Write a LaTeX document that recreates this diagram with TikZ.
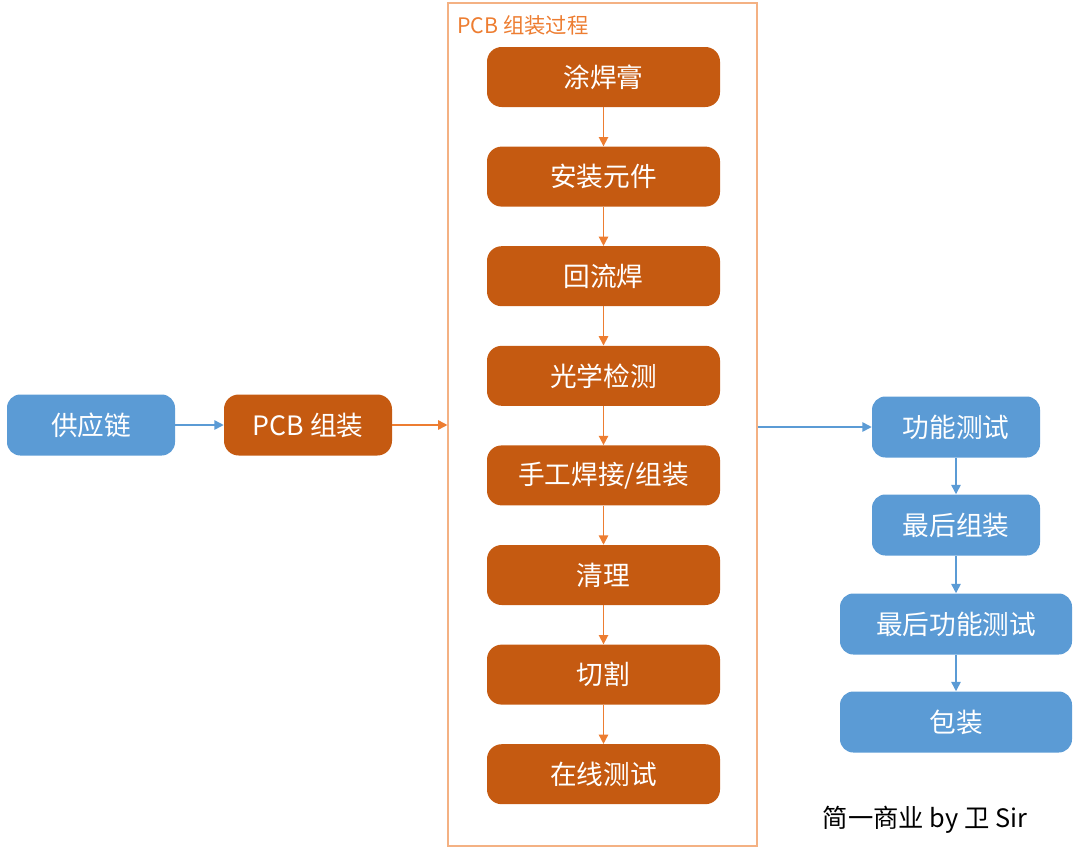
\documentclass[tikz,border=0pt]{standalone}
\usepackage{fontspec}
\usepackage{tikz}
\usetikzlibrary{positioning, arrows.meta}
\newfontfamily\cjk{Noto Sans CJK SC}
\definecolor{boxblue}{RGB}{91, 155, 213}
\definecolor{boxorange}{RGB}{197, 90, 17}
\definecolor{arrorange}{RGB}{237, 125, 49}
\definecolor{framepeach}{RGB}{244, 177, 131}
\tikzset{
  bluebox/.style={fill=boxblue, text=white, rounded corners=10pt,
    minimum width=126pt, minimum height=45.75pt, font=\cjk\fontsize{20}{24}\selectfont},
  orangebox/.style={fill=boxorange, text=white, rounded corners=11pt,
    minimum width=174.75pt, minimum height=45pt, font=\cjk\fontsize{20}{24}\selectfont},
  blueline/.style={-{Triangle[length=7pt, width=7pt]}, boxblue, line width=1.2},
  orangeline/.style={-{Triangle[length=7pt, width=7pt]}, arrorange, line width=1.2}
}
\begin{document}
\begin{tikzpicture}[x=0.75pt, y=-0.75pt]

  \useasboundingbox (0, 0) rectangle (1080, 857);

  \pgfmathsetmacro{\stepx}{603.5};
  \pgfmathsetmacro{\stepy}{77};
  \pgfmathsetmacro{\stepd}{99.6};

  % left side
  \node[bluebox] (supply) at (91, 425) {供应链};
  \node[orangebox, minimum width=126pt, minimum height=45.75pt] (pcb) at (308, 425) {PCB 组装};

  % process frame
  \node[draw=framepeach, line width=0.8, minimum width=231.75pt, minimum height=632.25pt,
    inner sep=0pt] (proc) at (602.5, 424.5) {};
  \node[anchor=west, text=arrorange, font=\cjk\fontsize{16}{19}\selectfont, inner sep=0pt]
    (proctitle) at (457, 25) {PCB 组装过程};

  \node[orangebox] (s1) at (\stepx, {\stepy + 0*\stepd}) {涂焊膏};
  \node[orangebox] (s2) at (\stepx, {\stepy + 1*\stepd}) {安装元件};
  \node[orangebox] (s3) at (\stepx, {\stepy + 2*\stepd}) {回流焊};
  \node[orangebox] (s4) at (\stepx, {\stepy + 3*\stepd}) {光学检测};
  \node[orangebox] (s5) at (\stepx, {\stepy + 4*\stepd}) {手工焊接/组装};
  \node[orangebox] (s6) at (\stepx, {\stepy + 5*\stepd}) {清理};
  \node[orangebox] (s7) at (\stepx, {\stepy + 6*\stepd}) {切割};
  \node[orangebox] (s8) at (\stepx, {\stepy + 7*\stepd}) {在线测试};

  \foreach \a/\b in {s1/s2, s2/s3, s3/s4, s4/s5, s5/s6, s6/s7, s7/s8}
    \draw[orangeline] (\a) -- (\b);

  % right side
  \node[bluebox] (func) at (956, 427) {功能测试};
  \node[bluebox] (final) at (956, 525) {最后组装};
  \node[bluebox, minimum width=174pt] (finalfunc) at (956, 624) {最后功能测试};
  \node[bluebox, minimum width=174pt] (pack) at (956, 722) {包装};

  \draw[blueline] (supply) -- (pcb);
  \draw[orangeline] (pcb.east) -- (proc.west |- pcb.east);
  \draw[blueline] (proc.east |- func.west) -- (func.west);
  \draw[blueline] (func) -- (final);
  \draw[blueline] (final) -- (finalfunc);
  \draw[blueline] (finalfunc) -- (pack);

  \node[font=\cjk\fontsize{19}{22}\selectfont] (mark) at (925, 820) {简一商业 by 卫 Sir};

\end{tikzpicture}
\end{document}
